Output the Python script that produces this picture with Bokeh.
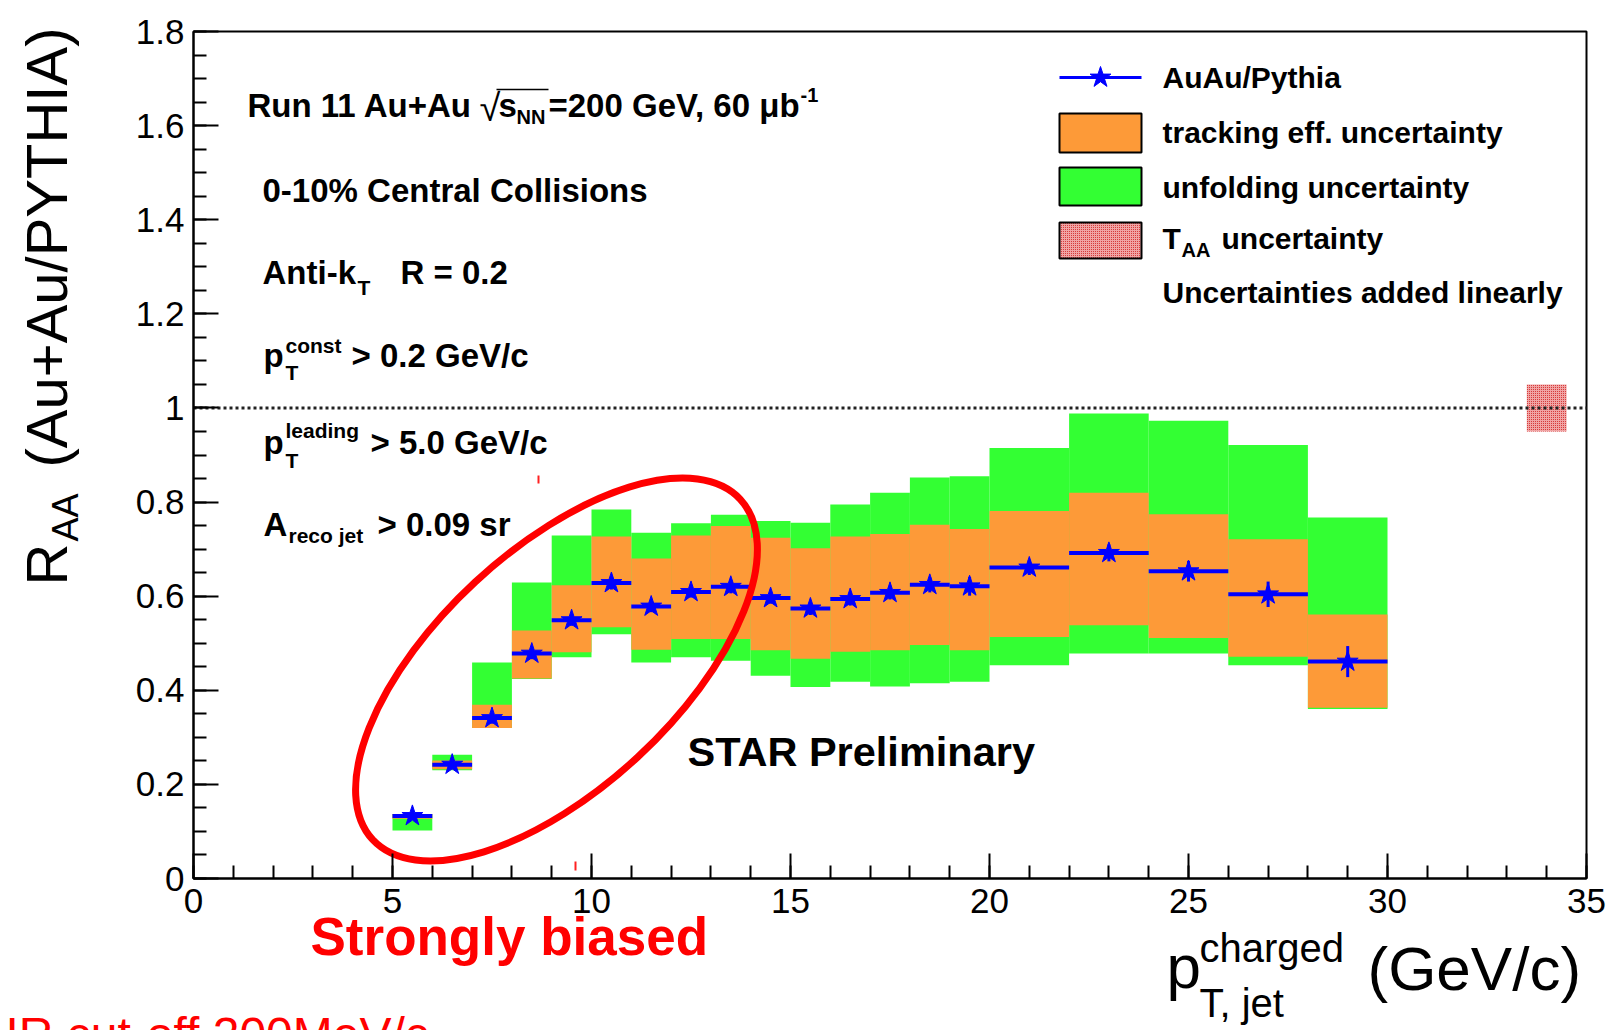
import math
from bokeh.plotting import figure
from bokeh.models import (Range1d, FixedTicker, CustomJSTickFormatter, Label, Span,
                          ColumnDataSource, LinearAxis)
from bokeh.embed import file_html
from bokeh.resources import INLINE

# ---------------- data ----------------
bin_lo = [5, 6, 7, 8, 9, 10, 11, 12, 13, 14, 15, 16, 17, 18, 19, 20, 22, 24, 26, 28]
bin_hi = [6, 7, 8, 9, 10, 11, 12, 13, 14, 15, 16, 17, 18, 19, 20, 22, 24, 26, 28, 30]
raa = [0.133, 0.242, 0.341, 0.478, 0.549, 0.628, 0.578, 0.609, 0.620, 0.596,
       0.574, 0.594, 0.607, 0.624, 0.621, 0.661, 0.692, 0.653, 0.604, 0.461]
stat_err = [0.008, 0.010, 0.012, 0.012, 0.012, 0.014, 0.012, 0.012, 0.014, 0.012,
            0.014, 0.014, 0.014, 0.016, 0.020, 0.016, 0.018, 0.022, 0.027, 0.033]
track_lo = [0.127, 0.232, 0.320, 0.425, 0.481, 0.534, 0.486, 0.509, 0.509, 0.485,
            0.467, 0.482, 0.485, 0.496, 0.485, 0.513, 0.538, 0.511, 0.471, 0.363]
track_hi = [0.137, 0.251, 0.369, 0.527, 0.623, 0.727, 0.680, 0.729, 0.749, 0.724,
            0.702, 0.727, 0.732, 0.752, 0.743, 0.781, 0.820, 0.774, 0.721, 0.561]
unf_lo = [0.102, 0.230, 0.320, 0.424, 0.470, 0.519, 0.459, 0.470, 0.463, 0.431,
          0.407, 0.418, 0.408, 0.415, 0.418, 0.453, 0.478, 0.478, 0.453, 0.360]
unf_hi = [0.137, 0.263, 0.459, 0.629, 0.729, 0.784, 0.735, 0.755, 0.773, 0.760,
          0.756, 0.795, 0.820, 0.852, 0.855, 0.915, 0.988, 0.973, 0.921, 0.767]
taa_x = [33.5, 34.5]
taa_center = 1.0
taa_err = 0.05
ref_line = 1.0
x_ticks = [0, 5, 10, 15, 20, 25, 30, 35]
y_ticks = [0, 0.2, 0.4, 0.6, 0.8, 1.0, 1.2, 1.4, 1.6, 1.8]
x_minor = list(range(0, 36))
y_minor = [round(0.05 * i, 2) for i in range(37)]

# ---------------- layout (pixel frame of the axes box) ----------------
W, H = 1608, 1030
FL, FR, FT, FB = 193, 1586, 31, 878
XMAX, YMAX = 35.0, 1.8


def dx(px):
    return (px - FL) / (FR - FL) * XMAX


def dy(py):
    return (FB - py) / (FB - FT) * YMAX


# the drawing area covers the whole canvas; the axes are fixed at x=0 / y=0
p = figure(width=W, height=H, x_range=Range1d(dx(0), dx(W)), y_range=Range1d(dy(H), dy(0)),
           output_backend="svg", toolbar_location=None, min_border=0,
           x_axis_location=None, y_axis_location=None)
p.xgrid.visible = False
p.ygrid.visible = False
p.background_fill_color = "white"
p.border_fill_color = "white"
p.outline_line_color = None

fmt = CustomJSTickFormatter(code="return String(Math.round(tick*100)/100);")
xaxis = LinearAxis(fixed_location=0, bounds=(0, XMAX),
                   ticker=FixedTicker(ticks=x_ticks, minor_ticks=x_minor))
yaxis = LinearAxis(fixed_location=0, bounds=(0, YMAX),
                   ticker=FixedTicker(ticks=y_ticks, minor_ticks=y_minor))
p.add_layout(xaxis, "below")
p.add_layout(yaxis, "left")
for ax, standoff in ((xaxis, 10), (yaxis, 9)):
    ax.formatter = fmt
    ax.major_tick_in = 25
    ax.major_tick_out = 0
    ax.minor_tick_in = 13
    ax.minor_tick_out = 0
    ax.major_tick_line_width = 2
    ax.minor_tick_line_width = 2
    ax.axis_line_width = 2
    ax.major_label_text_font = "Liberation Sans"
    ax.major_label_text_font_size = "35px"
    ax.major_label_text_color = "black"
    ax.major_label_standoff = standoff

# ---------------- data glyphs ----------------
src = ColumnDataSource(dict(
    lo=bin_lo, hi=bin_hi, y=raa,
    xc=[(a + b) / 2 for a, b in zip(bin_lo, bin_hi)],
    ylo=[v - e for v, e in zip(raa, stat_err)],
    yhi=[v + e for v, e in zip(raa, stat_err)],
    tlo=track_lo, thi=track_hi, ulo=unf_lo, uhi=unf_hi))

GREEN = "#33ff33"
ORANGE = "#fd9a38"
BLUE = "#0000ff"
TAA_FILL = "#f0a4a4"
TAA_HATCH = "#d01818"

p.quad(left="lo", right="hi", bottom="ulo", top="uhi", source=src,
       fill_color=GREEN, line_color=None)
p.quad(left="lo", right="hi", bottom="tlo", top="thi", source=src,
       fill_color=ORANGE, line_color=None)
p.segment(x0="xc", y0="ylo", x1="xc", y1="yhi", source=src, line_color=BLUE, line_width=3)
p.segment(x0="lo", y0="y", x1="hi", y1="y", source=src, line_color=BLUE, line_width=4)
p.scatter(x="xc", y="y", source=src, marker="star", size=22,
          fill_color=BLUE, line_color=BLUE)

# T_AA box
p.quad(left=[taa_x[0]], right=[taa_x[1]], bottom=[taa_center - taa_err],
       top=[taa_center + taa_err], fill_color=TAA_FILL, line_color=None,
       hatch_pattern="dot", hatch_color=TAA_HATCH, hatch_scale=2, hatch_weight=1)

# axes box (top and right sides)
p.quad(left=[0], right=[XMAX], bottom=[0], top=[YMAX], fill_color=None,
       line_color="black", line_width=2)

p.segment(x0=[0], y0=[ref_line], x1=[XMAX], y1=[ref_line], line_color="#222222",
          line_width=3, line_dash="3 3")

# red ellipse annotation
p.ellipse(x=[dx(556)], y=[dy(669)], width=[501], height=[239],
          width_units="screen", height_units="screen", angle=[math.radians(42.8)],
          fill_color=None, line_color="#ff0000", line_width=7)
# small red artefacts
p.segment(x0=[dx(538), dx(575)], y0=[dy(475), dy(861)], x1=[dx(538), dx(575)],
          y1=[dy(483), dy(870)], line_color="#ff2020", line_width=2)

# ---------------- legend (drawn) ----------------
p.segment(x0=[dx(1059)], y0=[dy(77)], x1=[dx(1141)], y1=[dy(77)], line_color=BLUE, line_width=3)
p.scatter(x=[dx(1100)], y=[dy(77)], marker="star", size=22, fill_color=BLUE, line_color=BLUE)
p.quad(left=[dx(1059)], right=[dx(1141)], top=[dy(113)], bottom=[dy(152)],
       fill_color=ORANGE, line_color="black", line_width=2)
p.quad(left=[dx(1059)], right=[dx(1141)], top=[dy(167)], bottom=[dy(205)],
       fill_color=GREEN, line_color="black", line_width=2)
p.quad(left=[dx(1059)], right=[dx(1141)], top=[dy(222)], bottom=[dy(258)],
       fill_color=TAA_FILL, line_color="black", line_width=2,
       hatch_pattern="dot", hatch_color=TAA_HATCH, hatch_scale=2, hatch_weight=1)


def txt(px, py, s, size, bold=True, color="black", angle=0, font="Liberation Sans"):
    """py is the vertical centre of the text (pixels from top)."""
    p.add_layout(Label(x=dx(px), y=dy(py), text=s, text_font=font,
                       text_font_size=f"{size}px",
                       text_font_style="bold" if bold else "normal",
                       text_color=color, text_align="left", text_baseline="middle",
                       angle=angle, angle_units="deg"))


# legend texts
txt(1162, 77, "AuAu/Pythia", 30)
txt(1162, 132, "tracking eff. uncertainty", 30)
txt(1162, 187, "unfolding uncertainty", 30)
txt(1162, 238, "T", 30)
txt(1181, 249, "AA", 20)
txt(1221, 238, "uncertainty", 30)
txt(1162, 292, "Uncertainties added linearly", 30)

# info texts
txt(247, 105, "Run 11 Au+Au", 33)
txt(479, 107, "\u221a", 38, bold=False)
p.segment(x0=[dx(496)], y0=[dy(89)], x1=[dx(548)], y1=[dy(89)], line_color="black", line_width=1.5)
txt(498, 105, "s", 33)
txt(516, 116, "NN", 20)
txt(548, 105, "=200 GeV, 60 \u03bcb", 33)
txt(800, 94, "-1", 20)

txt(262, 190, "0-10% Central Collisions", 33)

txt(262, 272, "Anti-k", 33)
txt(357, 287, "T", 21)
txt(400, 272, "R = 0.2", 33)

txt(263, 355, "p", 33)
txt(285, 345, "const", 21)
txt(285, 372, "T", 21)
txt(351, 355, "> 0.2 GeV/c", 33)

txt(263, 442, "p", 33)
txt(285, 430, "leading", 21)
txt(285, 460, "T", 21)
txt(370, 442, "> 5.0 GeV/c", 33)

txt(263, 524, "A", 33)
txt(288, 535, "reco jet", 21)
txt(377, 524, "> 0.09 sr", 33)

txt(687, 751, "STAR Preliminary", 41.5)
txt(310, 936, "Strongly biased", 53, color="#ff0000")
txt(5, 1034, "IR cut-off 200MeV/c", 48, bold=False, color="#ff0000")

# x axis title
txt(1166, 966, "p", 62, bold=False)
txt(1199, 947, "charged", 40, bold=False)
txt(1199, 1002, "T, jet", 40, bold=False)
txt(1367, 968, "(GeV/c)", 62, bold=False)

# y axis title (rotated)
txt(46, 585, "R", 58, bold=False, angle=90)
txt(65, 541, "AA", 36, bold=False, angle=90)
txt(46, 467, "(Au+Au/PYTHIA)", 58, bold=False, angle=90)

open("out.html", "w").write(file_html(p, INLINE))
